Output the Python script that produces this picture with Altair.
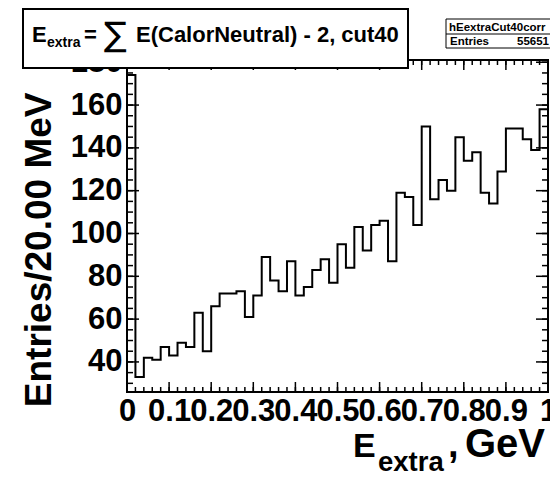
import altair as alt
import pandas as pd

# E_extra histogram: 50 bins of 20 MeV between 0 and 1 GeV
bin_width = 0.02
counts = [174, 33, 42, 41, 47, 43, 49, 47, 63, 45,
          66, 72, 72, 73, 61, 71, 89, 78, 73, 87,
          71, 75, 83, 88, 77, 95, 84, 103, 92, 104,
          106, 87, 119, 117, 104, 150, 116, 125, 120, 145,
          134, 138, 119, 114, 129, 149, 149, 144, 139, 158]

x_major = [0, 0.1, 0.2, 0.3, 0.4, 0.5, 0.6, 0.7, 0.8, 0.9, 1.0]
x_minor = [round(i * 0.02, 2) for i in range(51)]
y_major = [40, 60, 80, 100, 120, 140, 160, 180]
y_minor = list(range(30, 181, 5))

hist_name = "hEextraCut40corr"
entries = "55651"
y_title = "Entries/20.00 MeV"

FONT = "Liberation Sans"

# page layout (pixels)
PAD_L, PAD_T, PAD_R, PAD_B = 127, 60, 2, 85
W, H = 550 - PAD_L - PAD_R, 477 - PAD_T - PAD_B

# y range with a 5% margin above and below the data, as in ROOT
span = max(counts) - min(counts)
y_lo, y_hi = min(counts) - 0.05 * span, max(counts) + 0.05 * span

xscale = alt.Scale(domain=[0, 1], nice=False, zero=False)
yscale = alt.Scale(domain=[y_lo, y_hi], nice=False, zero=False)

x_axis = alt.Axis(
    values=x_major, format="~g", title=None, ticks=False, domain=False,
    grid=False, labelFont=FONT, labelFontWeight="bold", labelFontSize=31,
    labelColor="black", labelPadding=4, labelOverlap=False,
    labelFlush=False, labelBound=False)
y_axis = alt.Axis(
    values=y_major, title=y_title, ticks=False, domain=False, grid=False,
    labelFont=FONT, labelFontWeight="bold", labelFontSize=31,
    labelColor="black", labelPadding=5, labelOverlap=False,
    labelFlush=False, labelBound=False,
    titleFont=FONT, titleFontWeight="bold", titleFontSize=37,
    titleColor="black", titleAngle=270, titleAlign="right",
    titleBaseline="alphabetic", titleAnchor="end",
    titleX=50 - PAD_L, titleY=92 - PAD_T)

edges = [i * bin_width for i in range(len(counts))] + [1.0]
hist_df = pd.DataFrame({"edge": edges, "n": counts + [counts[-1]]})

one = pd.DataFrame({"k": [0]})


def px(x):
    return x - PAD_L


def py(y):
    return y - PAD_T


hist = alt.Chart(hist_df).mark_line(
    interpolate="step-after", color="black", strokeWidth=2
).encode(
    x=alt.X("edge:Q", scale=xscale, axis=x_axis),
    y=alt.Y("n:Q", scale=yscale, axis=y_axis),
)

frame = alt.Chart(one).mark_rect(
    fillOpacity=0, stroke="black", strokeWidth=2
).encode(x=alt.value(0), x2=alt.value(W), y=alt.value(0), y2=alt.value(H))


def yticks(vals, x0, x1):
    df = pd.DataFrame({"n": vals})
    return alt.Chart(df).mark_rule(color="black", strokeWidth=1.5).encode(
        y=alt.Y("n:Q", scale=yscale, axis=y_axis),
        x=alt.value(x0), x2=alt.value(x1))


def xticks(vals, y0, y1):
    df = pd.DataFrame({"edge": vals})
    return alt.Chart(df).mark_rule(color="black", strokeWidth=1.5).encode(
        x=alt.X("edge:Q", scale=xscale, axis=x_axis),
        y=alt.value(y0), y2=alt.value(y1))


ticks = [
    yticks(y_major, 0, 12), yticks(y_minor, 0, 6),
    yticks(y_major, W, W - 12), yticks(y_minor, W, W - 6),
    xticks(x_major, H, H - 10), xticks(x_minor, H, H - 5),
    xticks(x_major, 0, 10), xticks(x_minor, 0, 5),
]


def text(s, x, y, size, align="left", baseline="alphabetic",
         font=FONT, weight="bold"):
    return alt.Chart(one).mark_text(
        text=s, font=font, fontSize=size, fontWeight=weight, align=align,
        baseline=baseline, color="black"
    ).encode(x=alt.value(px(x)), y=alt.value(py(y)))


def box(x0, x1, y0, y1, sw):
    return alt.Chart(one).mark_rect(
        fill="white", stroke="black", strokeWidth=sw
    ).encode(x=alt.value(px(x0)), x2=alt.value(px(x1)),
             y=alt.value(py(y0)), y2=alt.value(py(y1)))


# title pave
title_layers = [
    box(23, 408, 9, 68, 2),
    text("E", 32, 42, 22),
    text("extra", 47, 47, 14),
    text("=", 84, 42, 22),
    text("\u2211", 115.5, 36, 34, align="center", baseline="middle",
         font="DejaVu Sans", weight="normal"),
    text("E(CalorNeutral) - 2, cut40", 136, 42, 22),
]

# statistics pave
sep = alt.Chart(one).mark_rule(color="black", strokeWidth=1).encode(
    x=alt.value(px(446)), x2=alt.value(px(560)), y=alt.value(py(34)))
stats_layers = [
    box(446, 560, 19, 48, 1),
    sep,
    text(hist_name, 449, 30.5, 11.5),
    text("Entries", 450, 45, 11.5),
    text(entries, 549, 45, 11.5, align="right"),
]

# x axis title with subscript
xtitle_layers = [
    text("E", 353, 457, 34),
    text("extra", 378, 471, 27.5),
    text(",", 448, 457, 38),
    text("GeV", 545, 457, 40, align="right"),
]

chart = alt.layer(
    hist, frame, *ticks, *title_layers, *stats_layers, *xtitle_layers
).properties(
    width=W, height=H,
    padding={"left": PAD_L, "top": PAD_T, "right": PAD_R, "bottom": PAD_B},
    autosize=alt.AutoSizeParams(type="none"),
    background="white",
).configure_view(stroke=None)

chart.save("out.html", embed_options={"renderer": "svg", "actions": False})
